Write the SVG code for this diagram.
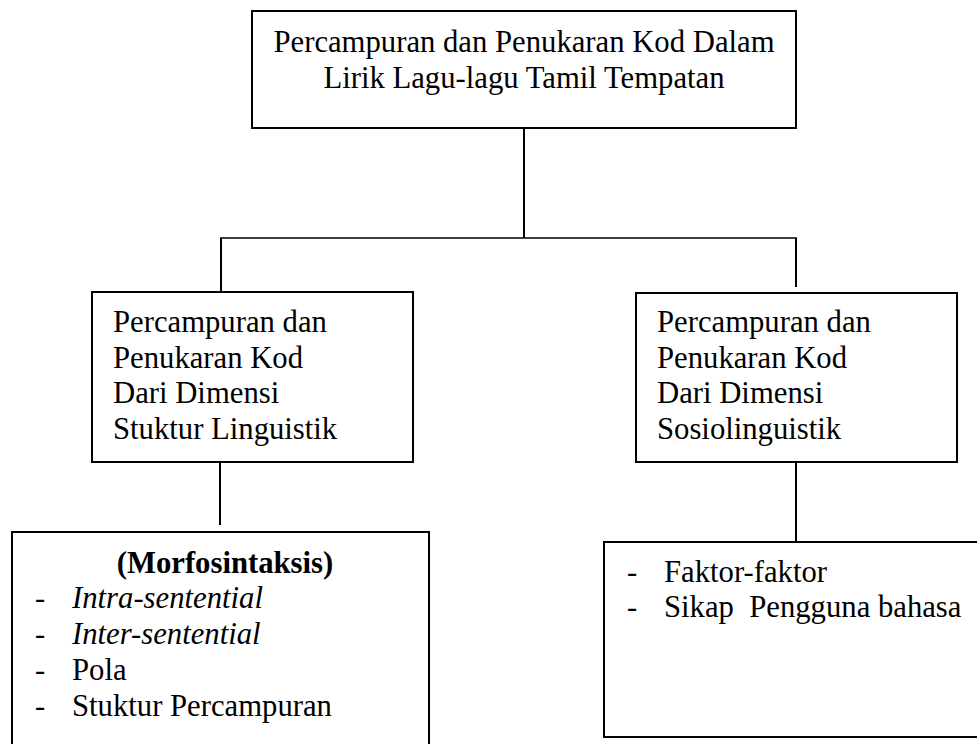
<svg xmlns="http://www.w3.org/2000/svg" width="977" height="744" viewBox="0 0 977 744">
<style>
  .box { fill: #ffffff; stroke: #000000; stroke-width: 2; }
  .conn { stroke: #000000; stroke-width: 2; fill: none; }
  .thin { stroke: #000000; stroke-width: 1.4; fill: none; }
  text { font-family: "Liberation Serif", "Times New Roman", serif; font-size: 30.7px; fill: #000000; white-space: pre; }
  .b { font-weight: bold; }
  .i { font-style: italic; }
</style>
<rect x="0" y="0" width="977" height="744" fill="#ffffff"/>
<g id="connectors">
  <line class="conn" x1="524" y1="128" x2="524" y2="238"/>
  <line class="thin" x1="220" y1="238" x2="797" y2="238"/>
  <line class="conn" x1="221" y1="238" x2="221" y2="292"/>
  <line class="conn" x1="796" y1="238" x2="796" y2="287"/>
  <line class="conn" x1="220" y1="462" x2="220" y2="525"/>
  <line class="conn" x1="796" y1="462" x2="796" y2="542"/>
</g>
<g id="node-top">
  <rect class="box" x="252" y="11" width="544" height="117"/>
  <text x="524" y="52" text-anchor="middle">Percampuran dan Penukaran Kod Dalam</text>
  <text x="524" y="88" text-anchor="middle">Lirik Lagu-lagu Tamil Tempatan</text>
</g>
<g id="node-left">
  <rect class="box" x="92" y="292" width="321" height="170"/>
  <text x="113" y="332">Percampuran dan</text>
  <text x="113" y="368">Penukaran Kod</text>
  <text x="113" y="403">Dari Dimensi</text>
  <text x="113" y="439">Stuktur Linguistik</text>
</g>
<g id="node-right">
  <rect class="box" x="636" y="293" width="321" height="169"/>
  <text x="657" y="332">Percampuran dan</text>
  <text x="657" y="368">Penukaran Kod</text>
  <text x="657" y="403">Dari Dimensi</text>
  <text x="657" y="439">Sosiolinguistik</text>
</g>
<g id="node-bottom-left">
  <rect class="box" x="12" y="532" width="417" height="230"/>
  <text class="b" x="225" y="573" text-anchor="middle">(Morfosintaksis)</text>
  <text x="35" y="608">-</text><text class="i" x="72" y="608">Intra-sentential</text>
  <text x="35" y="644">-</text><text class="i" x="72" y="644">Inter-sentential</text>
  <text x="35" y="680">-</text><text x="72" y="680">Pola</text>
  <text x="35" y="716">-</text><text x="72" y="716">Stuktur Percampuran</text>
</g>
<g id="node-bottom-right">
  <rect class="box" x="604" y="542" width="390" height="195"/>
  <text x="627" y="582">-</text><text x="664" y="582">Faktor-faktor</text>
  <text x="627" y="617">-</text><text x="664" y="617" xml:space="preserve">Sikap&#160; Pengguna bahasa</text>
</g>
</svg>
